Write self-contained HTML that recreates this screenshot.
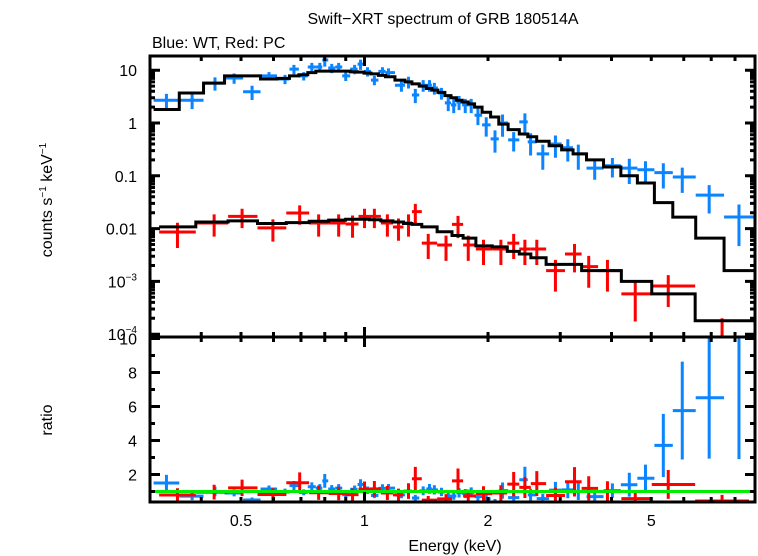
<!DOCTYPE html>
<html><head><meta charset="utf-8">
<style>
html,body{margin:0;padding:0;background:#fff;}
svg{display:block;font-family:"Liberation Sans",sans-serif;}
</style></head>
<body>
<svg id="chart" width="758" height="556" viewBox="0 0 758 556" xmlns="http://www.w3.org/2000/svg">
<text x="443" y="24" font-size="16" text-anchor="middle">Swift−XRT spectrum of GRB 180514A</text>
<text x="152" y="48" font-size="16">Blue: WT, Red: PC</text>
<text transform="translate(52,200) rotate(-90)" font-size="16" text-anchor="middle">counts s<tspan font-size="10" dy="-6">−1</tspan><tspan dy="6"> keV</tspan><tspan font-size="10" dy="-6">−1</tspan></text>
<text transform="translate(52,420) rotate(-90)" font-size="16" text-anchor="middle">ratio</text>
<text x="455" y="551" font-size="16" text-anchor="middle">Energy (keV)</text>
<g id="plot"></g>
</svg>
<script>
// ---- data ----
const blueE = [0.329,0.38,0.432,0.481,0.532,0.585,0.64,0.673,0.711,0.744,0.778,0.80,0.832,0.865,0.90,0.946,0.978,1.017,1.057,1.106,1.144,1.23,1.28,1.33,1.39,1.44,1.48,1.54,1.60,1.65,1.70,1.76,1.82,1.89,1.98,2.08,2.17,2.31,2.46,2.54,2.72,2.92,3.13,3.32,3.64,4.02,4.42,4.84,5.35,5.95,6.92,8.18];
const blueRate = [2.7,2.7,5.7,7.1,3.9,7.8,6.8,10.5,7.8,11.5,11.5,15.6,11,11.5,7.8,10.5,13,9.5,6.5,9.5,9,5.2,6,3.4,5.2,5.2,4.6,3.7,2.4,2.2,2.5,2.2,2.2,1.4,0.92,0.5,1.0,0.48,1.05,0.44,0.26,0.4,0.34,0.26,0.14,0.155,0.14,0.13,0.115,0.095,0.043,0.0166];
const blueErr = [0.32,0.32,0.28,0.22,0.3,0.18,0.2,0.2,0.18,0.2,0.2,0.25,0.2,0.2,0.2,0.2,0.22,0.2,0.2,0.2,0.2,0.25,0.25,0.3,0.25,0.25,0.25,0.25,0.3,0.3,0.3,0.3,0.3,0.35,0.4,0.45,0.45,0.4,0.45,0.45,0.5,0.45,0.45,0.5,0.4,0.4,0.5,0.45,0.5,0.5,0.55,0.72];
const blueModel = [1.8,3.7,5.7,7.8,7.8,6.8,7.0,7.8,8.2,9,9.6,9.6,9.6,9.6,9.6,9.3,9.2,8.8,8.5,8.0,7.5,6.5,6,5.5,5,4.5,4.2,3.8,3.3,3.0,2.7,2.5,2.3,2.0,1.6,1.3,0.95,0.75,0.62,0.55,0.45,0.37,0.31,0.26,0.2,0.147,0.1,0.073,0.031,0.0165,0.0066,0.0016];
const redE = [0.35,0.43,0.503,0.598,0.695,0.773,0.865,0.935,1.0,1.057,1.137,1.21,1.28,1.33,1.43,1.58,1.69,1.79,1.95,2.15,2.31,2.46,2.63,2.92,3.25,3.52,3.91,4.57,5.5,7.44];
const redRate = [0.0086,0.0128,0.017,0.0103,0.0197,0.0128,0.0128,0.0122,0.017,0.017,0.0128,0.0107,0.0128,0.021,0.0053,0.0049,0.012,0.0049,0.0041,0.0041,0.0053,0.0041,0.0041,0.0016,0.0033,0.0019,0.0016,0.00058,0.00082,0.00008];
const redErr = [0.5,0.45,0.4,0.45,0.4,0.45,0.45,0.45,0.4,0.4,0.45,0.45,0.45,0.4,0.5,0.5,0.45,0.5,0.5,0.5,0.5,0.5,0.5,0.6,0.55,0.6,0.6,0.7,0.6,1.5];
const redModel = [0.0108,0.0133,0.014,0.0125,0.013,0.0138,0.0145,0.015,0.015,0.0147,0.014,0.0133,0.0125,0.012,0.0108,0.0087,0.0074,0.0066,0.0047,0.0045,0.0037,0.0033,0.0028,0.0021,0.0021,0.0016,0.0016,0.001,0.00058,0.00018];
const topTickVals = [10,1,0.1,0.01,0.001,0.0001];
const topTickLabels = ["10","1","0.1","0.01","10<tspan font-size='10' dy='-7'>−3</tspan>","10<tspan font-size='10' dy='-7'>−4</tspan>"];
const ratioTicks = [2,4,6,8,10];
const xLabelVals = [0.5,1,2,5];

// ---- geometry ----
const L=150,R=755,T1=56,B1=337,T2=337,B2=502;
const EMIN=0.3,EMAX=8.95;
const X=e=>L+(Math.log10(e)-Math.log10(EMIN))/(Math.log10(EMAX)-Math.log10(EMIN))*(R-L);
const Y1=v=>123-52.8*Math.log10(v);
const Y2=v=>508.5-17*v;
const NS="http://www.w3.org/2000/svg";
const g=document.getElementById('plot');
function mk(tag,attrs,parent){const el=document.createElementNS(NS,tag);for(const k in attrs)el.setAttribute(k,attrs[k]);(parent||g).appendChild(el);return el;}
const clamp=(v,a,b)=>Math.max(a,Math.min(b,v));

function edges(E){const ed=[];for(let i=0;i<=E.length;i++){if(i===0)ed.push(E[0]*E[0]/Math.sqrt(E[0]*E[1]));else if(i===E.length){const n=E.length-1;ed.push(E[n]*E[n]/Math.sqrt(E[n]*E[n-1]));}else ed.push(Math.sqrt(E[i-1]*E[i]));}return ed;}

function series(E,rate,err,model,color,name){
  const ed=edges(E);
  const top=mk('g',{});
  
  
  const rat=mk('g',{});
  
  
  for(let i=0;i<E.length;i++){
    const x0=clamp(X(ed[i]),L,R),x1=clamp(X(ed[i+1]),L,R),xc=X(E[i]);
    const v=rate[i],lo=Math.max(v*(1-err[i]),1e-6),hi=v*(1+err[i]);
    const yraw=Y1(v);
    const yc=clamp(yraw,T1,B1),ylo=clamp(Y1(lo),T1,B1),yhi=clamp(Y1(hi),T1,B1);
    const hz=(yraw<=B1)?`M${x0},${yc}H${x1}`:'';
    const p=mk('path',{d:`${hz}M${xc},${ylo}V${yhi}`,stroke:color,'stroke-width':3,fill:'none'},top);
    
    
    const r=v/model[i],re=r*Math.min(err[i],0.8);
    const ry=clamp(Y2(r),T2,B2),rlo=clamp(Y2(r-re),T2,B2),rhi=clamp(Y2(r+re),T2,B2);
    const q=mk('path',{d:`M${x0},${ry}H${x1}M${xc},${rlo}V${rhi}`,stroke:color,'stroke-width':3,fill:'none'},rat);
    
    
  }
  let d='';
  for(let i=0;i<E.length;i++){const x0=clamp(X(ed[i]),L,R),x1=clamp(X(ed[i+1]),L,R),y=clamp(Y1(model[i]),T1,B1);d+=(i===0?`M${x0},${y}`:`V${y}`)+`H${x1}`;}
  if(X(ed[E.length])<R)d+=`H${R}`;
  const m=mk('path',{d:d,stroke:'#000','stroke-width':3,fill:'none'});
  
  
}
series(blueE,blueRate,blueErr,blueModel,'#0a84ff','wt');
series(redE,redRate,redErr,redModel,'#ff0000','pc');

const gl=mk('line',{x1:L,x2:R,y1:Y2(1),y2:Y2(1),stroke:'#00ee00','stroke-width':3});



const f1=mk('rect',{x:L,y:T1,width:R-L,height:B1-T1,fill:'none',stroke:'#000','stroke-width':3});


const f2=mk('rect',{x:L,y:T2,width:R-L,height:B2-T2,fill:'none',stroke:'#000','stroke-width':3});



let td='';
for(let dec=-1;dec<=0;dec++)for(let k=1;k<=9;k++){const e=k*Math.pow(10,dec);if(e<EMIN||e>EMAX)continue;const x=X(e);const len=(k===1)?10:5;
  td+=`M${x},${T1}v${len}M${x},${B1}v${-len}M${x},${T2}v${len}M${x},${B2}v${-len}`;}
for(let dec=-4;dec<=1;dec++)for(let k=1;k<=9;k++){const v=k*Math.pow(10,dec);const y=Y1(v);if(y<T1-1||y>B1+1)continue;const len=(k===1)?10:5;td+=`M${L},${y}h${len}M${R},${y}h${-len}`;}
for(let v=1;v<=10;v++){const y=Y2(v);if(y<T2-1)continue;const len=(v%2===0)?10:5;td+=`M${L},${y}h${len}M${R},${y}h${-len}`;}
const tk=mk('path',{d:td,stroke:'#000','stroke-width':3,fill:'none'});



topTickVals.forEach((v,i)=>{const t=mk('text',{x:137,y:Y1(v)+6,'font-size':16,'text-anchor':'end'});t.innerHTML=topTickLabels[i];
  
  });
ratioTicks.forEach(v=>{const t=mk('text',{x:137,y:Y2(v)+6,'font-size':16,'text-anchor':'end'});t.textContent=String(v);
  
  });
xLabelVals.forEach(v=>{const t=mk('text',{x:X(v),y:526,'font-size':16,'text-anchor':'middle'});t.textContent=String(v);
  
  });
</script>
</body></html>
